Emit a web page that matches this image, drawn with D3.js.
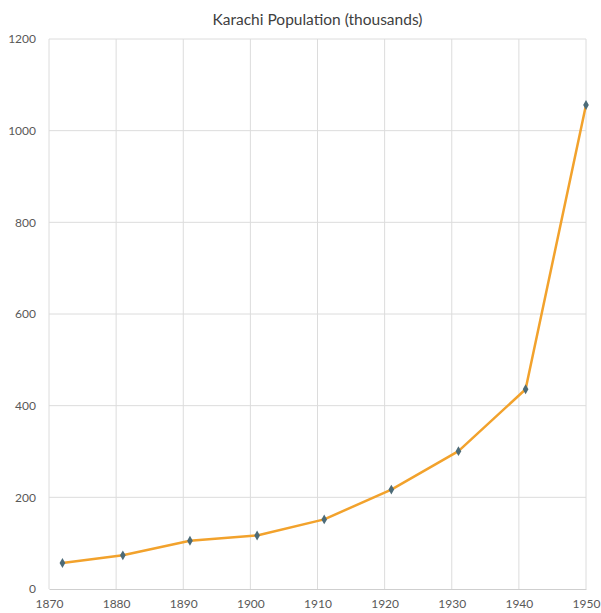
<!DOCTYPE html>
<html>
<head>
<meta charset="utf-8">
<script src="https://cdn.jsdelivr.net/npm/d3@7"></script>
<style>
  html, body { margin: 0; padding: 0; background: #fff; }
  svg { display: block; font-family: Lato, "Open Sans", sans-serif; }
</style>
</head>
<body>
<svg id="chart" width="601" height="613"></svg>
<script>
// Census years and Karachi population in thousands
const years = [1872, 1881, 1891, 1901, 1911, 1921, 1931, 1941, 1950];
const population = [56.8, 73.5, 105.2, 116.7, 151.9, 216.9, 300.8, 435.9, 1056];
const xTicks = [1870, 1880, 1890, 1900, 1910, 1920, 1930, 1940, 1950];
const yTicks = [0, 200, 400, 600, 800, 1000, 1200];
const title = "Karachi Population (thousands)";

const svg = d3.select("#chart");
const margin = { left: 49, right: 15, top: 39, bottom: 24 };
const W = 601, H = 613;

const x = d3.scaleLinear().domain([1870, 1950]).range([margin.left, W - margin.right]);
const y = d3.scaleLinear().domain([0, 1200]).range([H - margin.bottom, margin.top]);

// Gridlines
svg.append("g").selectAll("line.v").data(xTicks).join("line")
  .attr("x1", d => x(d)).attr("x2", d => x(d))
  .attr("y1", y(1200)).attr("y2", y(0))
  .attr("stroke", "#dcdcdc").attr("stroke-width", 1);
svg.append("g").selectAll("line.h").data(yTicks.filter(d => d > 0)).join("line")
  .attr("x1", x(1870)).attr("x2", x(1950))
  .attr("y1", d => y(d)).attr("y2", d => y(d))
  .attr("stroke", "#dcdcdc").attr("stroke-width", 1);

// Axes
const xAxis = svg.append("g")
  .attr("transform", `translate(0,${y(0)})`)
  .call(d3.axisBottom(x).tickValues(xTicks).tickFormat(d3.format("d")).tickSize(0).tickPadding(10));
xAxis.select(".domain").attr("stroke", "#cfcfcf");
const yAxis = svg.append("g")
  .attr("transform", `translate(${x(1870)},0)`)
  .call(d3.axisLeft(y).tickValues(yTicks).tickFormat(d3.format("d")).tickSize(0).tickPadding(13));
yAxis.select(".domain").remove();
svg.selectAll(".tick text")
  .attr("fill", "#595959").attr("font-size", 12)
  .attr("font-family", "Lato, 'Open Sans', sans-serif");

// Line
const pts = years.map((yr, i) => [yr, population[i]]);
svg.append("path").datum(pts)
  .attr("fill", "none").attr("stroke", "#f2a22c").attr("stroke-width", 2.5)
  .attr("stroke-linejoin", "round")
  .attr("d", d3.line().x(d => x(d[0])).y(d => y(d[1])));

// Markers
svg.append("g").selectAll("path").data(pts).join("path")
  .attr("transform", d => `translate(${x(d[0])},${y(d[1])})`)
  .attr("d", d3.symbol().type(d3.symbolDiamond).size(28))
  .attr("fill", "#4c6b78");

// Title
svg.append("text")
  .attr("x", (x(1870) + x(1950)) / 2).attr("y", 25)
  .attr("text-anchor", "middle")
  .attr("fill", "#404040").attr("font-size", 15.5)
  .text(title);
</script>
</body>
</html>
